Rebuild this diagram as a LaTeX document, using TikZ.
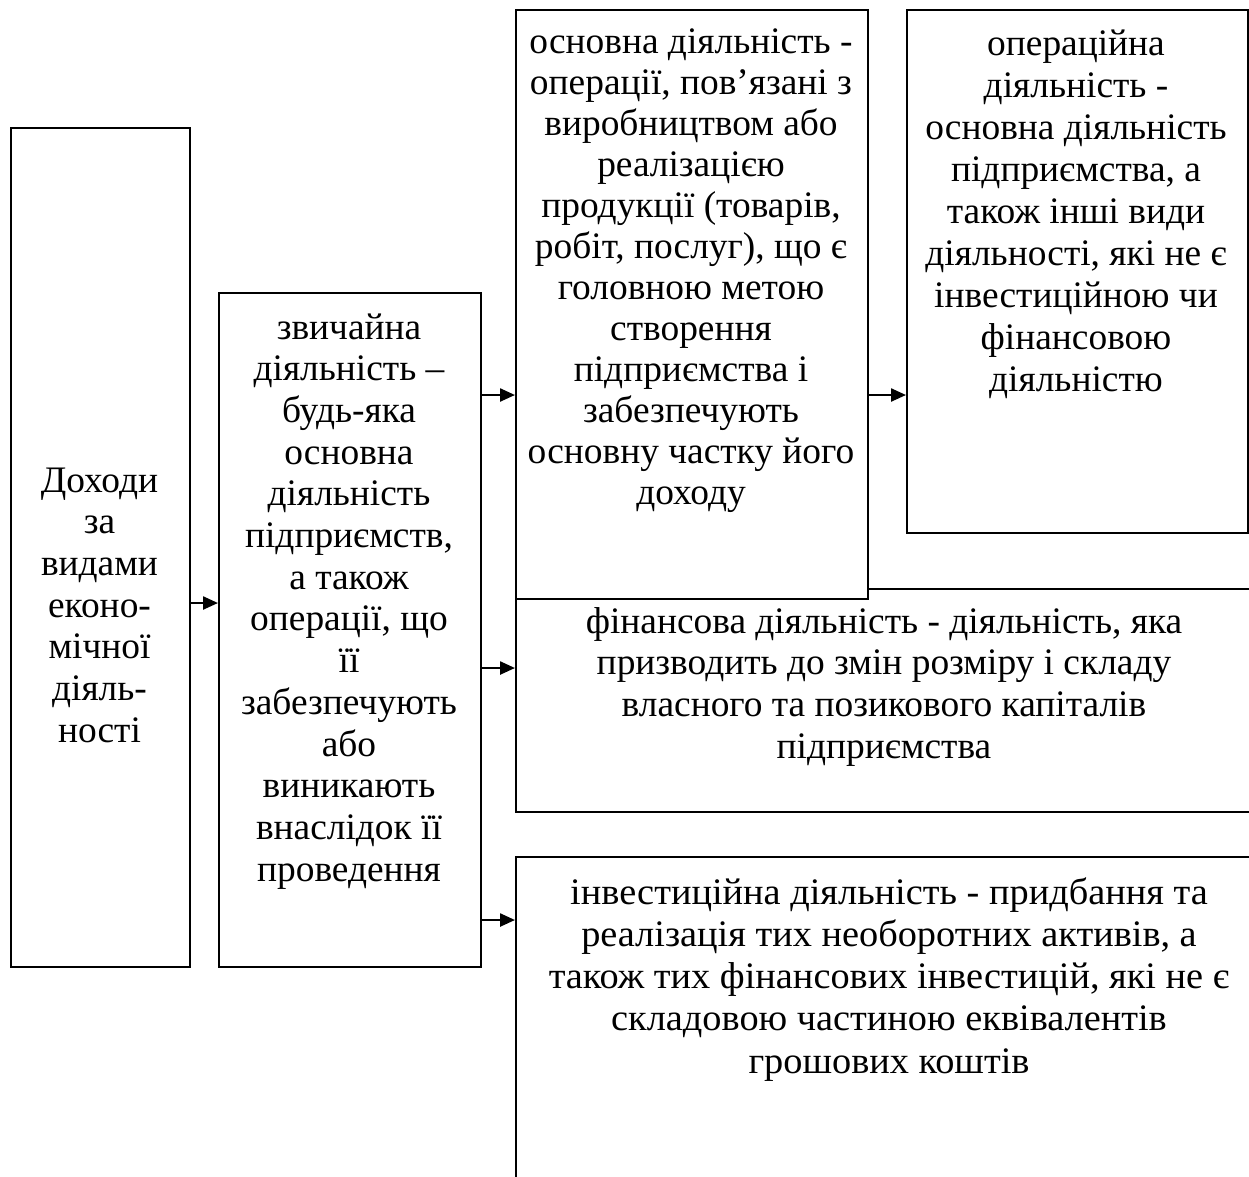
\documentclass[tikz,border=0pt]{standalone}
\usepackage{fontspec}
\setmainfont{Liberation Serif}
\usetikzlibrary{arrows.meta}
\begin{document}
\begin{tikzpicture}[x=1pt,y=-1pt,
  box/.style={draw, line width=2pt, fill=white, inner sep=0pt, anchor=north west},
  txt/.style={anchor=base, inner sep=0pt, font=\fontsize{37.4}{41.7}\selectfont},
  arr/.style={line width=2.4pt, -{Triangle[length=15pt,width=13pt]}}]
\useasboundingbox (0,0) rectangle (1249,1176);
% boxes
\node[box, minimum width=745pt, minimum height=223pt] (b5) at (515,588) {};
\node[box, minimum width=745pt, minimum height=340pt] (b6) at (515,856) {};
\node[box, minimum width=179pt, minimum height=839pt] (b1) at (10,127) {};
\node[box, minimum width=262pt, minimum height=674pt] (b2) at (218,292) {};
\node[box, minimum width=352pt, minimum height=589pt] (b3) at (515,9) {};
\node[box, minimum width=341pt, minimum height=523pt] (b4) at (906,9) {};
% texts
\node[txt] (t1) at (99.5,492) {\begin{tabular}[t]{@{}c@{}}Доходи\\за\\видами\\еконо-\\мічної\\діяль-\\ності\end{tabular}};
\node[txt] (t2) at (349,339) {\begin{tabular}[t]{@{}c@{}}звичайна\\діяльність –\\будь-яка\\основна\\діяльність\\підприємств,\\а також\\операції, що\\її\\забезпечують\\або\\виникають\\внаслідок її\\проведення\end{tabular}};
\node[txt, font=\fontsize{37.4}{41}\selectfont] (t3) at (691,53) {\begin{tabular}[t]{@{}c@{}}основна діяльність -\\операції, пов’язані з\\виробництвом або\\реалізацією\\продукції (товарів,\\робіт, послуг), що є\\головною метою\\створення\\підприємства і\\забезпечують\\основну частку його\\доходу\end{tabular}};
\node[txt, font=\fontsize{37.4}{42}\selectfont] (t4) at (1076,55) {\begin{tabular}[t]{@{}c@{}}операційна\\діяльність -\\основна діяльність\\підприємства, а\\також інші види\\діяльності, які не є\\інвестиційною чи\\фінансовою\\діяльністю\end{tabular}};
\node[txt] (t5) at (884,633) {\begin{tabular}[t]{@{}c@{}}фінансова діяльність - діяльність, яка\\призводить до змін розміру і складу\\власного та позикового капіталів\\підприємства\end{tabular}};
\node[txt, font=\fontsize{37.4}{42.3}\selectfont] (t6) at (889,904) {\scalebox{1.025}[1]{\begin{tabular}[t]{@{}c@{}}інвестиційна діяльність - придбання та\\реалізація тих необоротних активів, а\\також тих фінансових інвестицій, які не є\\складовою частиною еквівалентів\\грошових коштів\end{tabular}}};
% arrow levels
\coordinate (y1) at (0,603);
\coordinate (y2) at (0,395);
\coordinate (y3) at (0,668);
\coordinate (y4) at (0,920);
\draw[arr] (b1.east |- y1) -- (b2.west |- y1);
\draw[arr] (b2.east |- y2) -- (b3.west |- y2);
\draw[arr] (b2.east |- y3) -- (b5.west |- y3);
\draw[arr] (b2.east |- y4) -- (b6.west |- y4);
\draw[arr] (b3.east |- y2) -- (b4.west |- y2);
\end{tikzpicture}
\end{document}
